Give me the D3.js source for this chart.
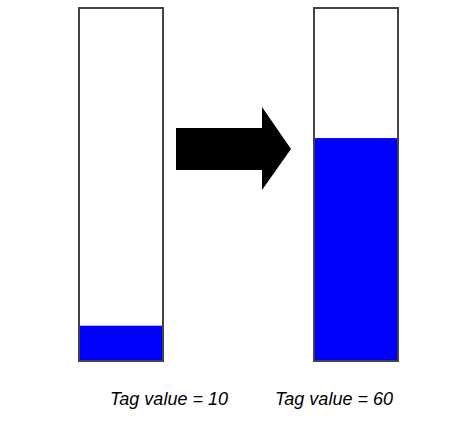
<!DOCTYPE html>
<html>
<head>
<meta charset="utf-8">
<script src="https://cdn.jsdelivr.net/npm/d3@7"></script>
<style>
  body { margin: 0; background: #fff; }
  svg { display: block; }
</style>
</head>
<body>
<svg width="473" height="440"></svg>
<script>
// gauge data
const tagValues = [10, 60];
const gaugeMax = [100, 95];
const labels = ["Tag value = 10", "Tag value = 60"];

const svg = d3.select("svg");

const barWidth = 84;
const x = d3.scalePoint().domain(d3.range(tagValues.length)).range([121, 356]);
// label positions are offset from the bars in the original
const labelX = d3.scalePoint().domain(d3.range(labels.length)).range([110, 275]);

// each gauge gets its own vertical scale
const yScales = tagValues.map((v, i) =>
  d3.scaleLinear().domain([0, gaugeMax[i]]).range([361, 8])
);

const gauges = svg.selectAll(".gauge")
  .data(tagValues)
  .enter()
  .append("g")
  .attr("class", "gauge");

// fill level
gauges.append("rect")
  .attr("x", (d, i) => x(i) - barWidth / 2)
  .attr("y", (d, i) => yScales[i](d))
  .attr("width", barWidth)
  .attr("height", (d, i) => yScales[i](0) - yScales[i](d))
  .attr("fill", "#0000ff");

// outline
gauges.append("rect")
  .attr("x", (d, i) => x(i) - barWidth / 2)
  .attr("y", (d, i) => yScales[i](gaugeMax[i]))
  .attr("width", barWidth)
  .attr("height", (d, i) => yScales[i](0) - yScales[i](gaugeMax[i]))
  .attr("fill", "none")
  .attr("stroke", "#444")
  .attr("stroke-width", 2);

// labels
gauges.append("text")
  .attr("x", (d, i) => labelX(i))
  .attr("y", 405)
  .style("font-family", "Liberation Sans, Arial, sans-serif")
  .style("font-style", "italic")
  .style("font-size", "18px")
  .attr("fill", "#000")
  .text((d, i) => labels[i]);

// arrow between the gauges
const arrow = d3.path();
arrow.moveTo(176, 128);
arrow.lineTo(262, 128);
arrow.lineTo(262, 107);
arrow.lineTo(291, 149);
arrow.lineTo(262, 190);
arrow.lineTo(262, 170);
arrow.lineTo(176, 170);
arrow.closePath();

svg.append("path")
  .attr("d", arrow.toString())
  .attr("fill", "#000");
</script>
</body>
</html>
